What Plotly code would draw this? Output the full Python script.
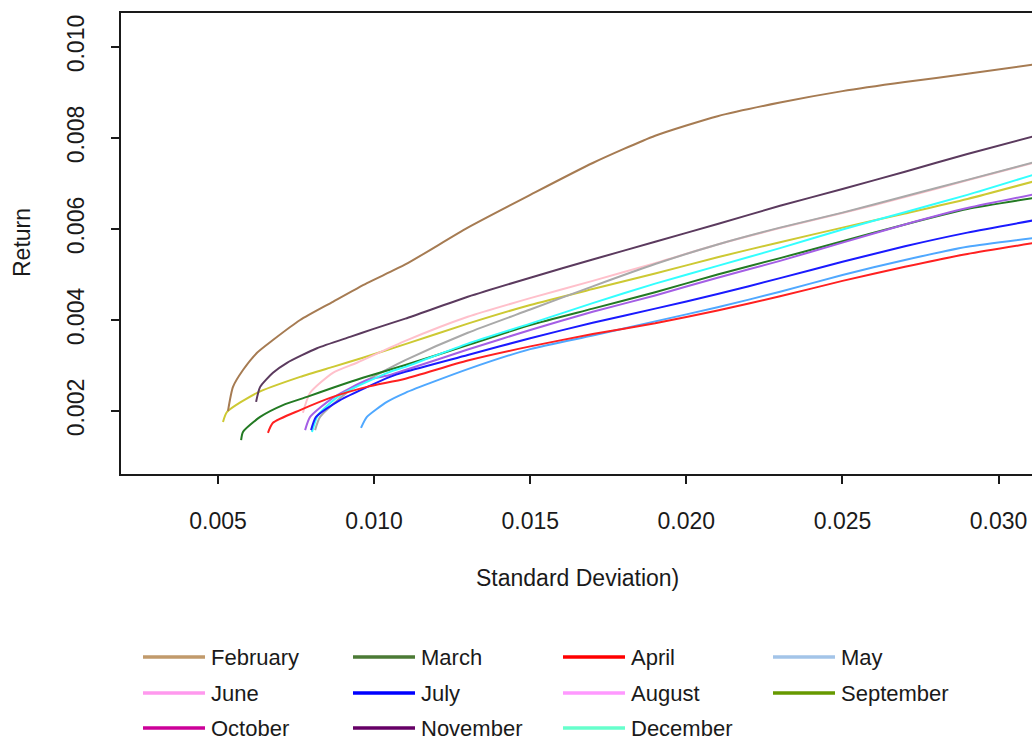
import plotly.graph_objects as go

# ---------------- data ----------------
months = ["February", "March", "April", "May", "June", "July",
          "August", "September", "October", "November", "December"]

feb_sd = [0.00532, 0.00548, 0.00580, 0.00625, 0.00676, 0.00763, 0.00868, 0.00977, 0.011, 0.013, 0.015, 0.017, 0.019, 0.021, 0.023, 0.025, 0.027, 0.029, 0.0312]
feb_ret = [0.00200, 0.00253, 0.00290, 0.00328, 0.00356, 0.00400, 0.00440, 0.00481, 0.00522, 0.00603, 0.00675, 0.00745, 0.00805, 0.00848, 0.00878, 0.00903, 0.00923, 0.00941, 0.00962]

mar_sd = [0.00574, 0.00580, 0.00635, 0.00708, 0.00785, 0.00868, 0.00964, 0.011, 0.013, 0.015, 0.017, 0.019, 0.021, 0.023, 0.025, 0.027, 0.029, 0.0312]
mar_ret = [0.00136, 0.00154, 0.00187, 0.00213, 0.00231, 0.00251, 0.00273, 0.00301, 0.00345, 0.00389, 0.00425, 0.00461, 0.00500, 0.00536, 0.00573, 0.00610, 0.00644, 0.00669]

apr_sd = [0.00660, 0.00676, 0.00763, 0.00868, 0.00977, 0.011, 0.013, 0.015, 0.017, 0.019, 0.021, 0.023, 0.025, 0.027, 0.029, 0.0312]
apr_ret = [0.00152, 0.00174, 0.00202, 0.00231, 0.00253, 0.00271, 0.00311, 0.00342, 0.00369, 0.00393, 0.00421, 0.00452, 0.00486, 0.00517, 0.00545, 0.00570]

may_sd = [0.00958, 0.00977, 0.01041, 0.011, 0.013, 0.015, 0.017, 0.019, 0.021, 0.023, 0.025, 0.027, 0.029, 0.0312]
may_ret = [0.00163, 0.00187, 0.00220, 0.00240, 0.00292, 0.00336, 0.00366, 0.00397, 0.00428, 0.00462, 0.00499, 0.00532, 0.00561, 0.00581]

jun_sd = [0.00772, 0.00795, 0.00868, 0.00945, 0.011, 0.013, 0.015, 0.017, 0.019, 0.021, 0.023, 0.025, 0.027, 0.029, 0.0312]
jun_ret = [0.00196, 0.00240, 0.00284, 0.00306, 0.00354, 0.00407, 0.00448, 0.00486, 0.00525, 0.00566, 0.00602, 0.00635, 0.00670, 0.00707, 0.00747]

jul_sd = [0.00798, 0.00814, 0.00891, 0.01051, 0.011, 0.013, 0.015, 0.017, 0.019, 0.021, 0.023, 0.025, 0.027, 0.029, 0.0312]
jul_ret = [0.00158, 0.00187, 0.00224, 0.00275, 0.00286, 0.00323, 0.00360, 0.00394, 0.00425, 0.00457, 0.00492, 0.00528, 0.00562, 0.00592, 0.00620]

aug_sd = [0.00779, 0.00795, 0.00868, 0.00977, 0.01051, 0.011, 0.013, 0.015, 0.017, 0.019, 0.021, 0.023, 0.025, 0.027, 0.029, 0.0312]
aug_ret = [0.00158, 0.00187, 0.00229, 0.00268, 0.00279, 0.00290, 0.00335, 0.00378, 0.00418, 0.00454, 0.00493, 0.00530, 0.00570, 0.00610, 0.00646, 0.00677]

sep_sd = [0.00516, 0.00529, 0.00625, 0.00763, 0.00868, 0.00964, 0.011, 0.013, 0.015, 0.017, 0.019, 0.021, 0.023, 0.025, 0.027, 0.029, 0.0312]
sep_ret = [0.00176, 0.00198, 0.00240, 0.00275, 0.00297, 0.00317, 0.00347, 0.00392, 0.00433, 0.00468, 0.00502, 0.00538, 0.00571, 0.00603, 0.00634, 0.00666, 0.00706]

oct_sd = [0.00811, 0.00827, 0.00923, 0.01051, 0.011, 0.013, 0.015, 0.017, 0.019, 0.021, 0.023, 0.025, 0.027, 0.029, 0.0312]
oct_ret = [0.00158, 0.00187, 0.00246, 0.00295, 0.00312, 0.00372, 0.00423, 0.00474, 0.00523, 0.00566, 0.00603, 0.00636, 0.00672, 0.00708, 0.00748]

nov_sd = [0.00622, 0.00635, 0.00676, 0.00721, 0.00817, 0.00923, 0.00996, 0.011, 0.013, 0.015, 0.017, 0.019, 0.021, 0.023, 0.025, 0.027, 0.029, 0.0312]
nov_ret = [0.00220, 0.00253, 0.00284, 0.00306, 0.00338, 0.00363, 0.00380, 0.00403, 0.00451, 0.00493, 0.00533, 0.00572, 0.00611, 0.00651, 0.00688, 0.00726, 0.00765, 0.00805]

dec_sd = [0.00801, 0.00820, 0.00891, 0.01051, 0.011, 0.013, 0.015, 0.017, 0.019, 0.021, 0.023, 0.025, 0.027, 0.029, 0.0312]
dec_ret = [0.00154, 0.00191, 0.00235, 0.00286, 0.00297, 0.00348, 0.00392, 0.00437, 0.00480, 0.00519, 0.00558, 0.00599, 0.00637, 0.00675, 0.00721]

x_ticks = [0.005, 0.010, 0.015, 0.020, 0.025, 0.030]
x_tick_labels = ["0.005", "0.010", "0.015", "0.020", "0.025", "0.030"]
y_ticks = [0.002, 0.004, 0.006, 0.008, 0.010]
y_tick_labels = ["0.002", "0.004", "0.006", "0.008", "0.010"]

x_title = "Standard Deviation)"
y_title = "Return"

# ---------------- styles ----------------
series = [
    (feb_sd, feb_ret), (mar_sd, mar_ret), (apr_sd, apr_ret), (may_sd, may_ret),
    (jun_sd, jun_ret), (jul_sd, jul_ret), (aug_sd, aug_ret), (sep_sd, sep_ret),
    (oct_sd, oct_ret), (nov_sd, nov_ret), (dec_sd, dec_ret),
]
line_colors = ["#A67B52", "#237A23", "#FF2020", "#4FA8FF", "#FFC0CB", "#1A1AFF",
               "#A45EE5", "#CDC933", "#A9A9A9", "#5B3A5E", "#33FFFF"]
legend_colors = ["#C19A6B", "#4B7A35", "#FF0000", "#A3C4E8", "#FF99EE", "#0000FF",
                 "#FF99FF", "#669900", "#CC0099", "#660066", "#66FFCC"]

W, H = 1032, 740
L, T, R, B = 121, 13, 1032, 474
pw, ph = R - L, B - T

def px(xp):
    return (xp - L) / pw

def py(yp):
    return (B - yp) / ph

fig = go.Figure()
# draw in an order so that overlaps resemble the reference
order = [7, 4, 8, 0, 9, 1, 6, 10, 5, 3, 2]
for i in order:
    sx, sy = series[i]
    fig.add_trace(go.Scatter(x=sx, y=sy, mode="lines", name=months[i],
                             line=dict(color=line_colors[i], width=2, shape="spline", smoothing=0.6),
                             showlegend=False, hoverinfo="skip"))

font_main = "Liberation Sans, Arial, sans-serif"

shapes = []
annotations = []
# custom legend grid (4 columns)
col_x = [143, 353, 563, 773]
row_y = [657, 693, 728]
for k, (name, col) in enumerate(zip(months, legend_colors)):
    r, c = divmod(k, 4)
    x0 = col_x[c]
    y0 = row_y[r]
    shapes.append(dict(type="line", xref="paper", yref="paper",
                       x0=px(x0), x1=px(x0 + 62), y0=py(y0), y1=py(y0),
                       line=dict(color=col, width=3.5)))
    annotations.append(dict(xref="paper", yref="paper", x=px(x0 + 66), y=py(y0),
                            text=name, showarrow=False, xanchor="left", yanchor="middle",
                            font=dict(family=font_main, size=22, color="#1a1a1a")))

annotations.append(dict(xref="paper", yref="paper", x=px(577), y=py(578), text=x_title,
                        showarrow=False, xanchor="center", yanchor="middle",
                        font=dict(family=font_main, size=23, color="#1a1a1a")))
annotations.append(dict(xref="paper", yref="paper", x=px(22), y=py(243), text=y_title,
                        showarrow=False, xanchor="center", yanchor="middle", textangle=-90,
                        font=dict(family=font_main, size=23, color="#1a1a1a")))

x_range = [0.005 - (218 - L) / 31224, 0.005 + (R - 218) / 31224]
y_range = [0.002 - (B - 411) / 45500, 0.002 + (411 - T) / 45500]

fig.update_layout(
    width=W, height=H,
    margin=dict(l=L, r=W - R, t=T, b=H - B, pad=0),
    paper_bgcolor="white", plot_bgcolor="white",
    showlegend=False,
    shapes=shapes, annotations=annotations,
    xaxis=dict(range=x_range, tickvals=x_ticks, ticktext=x_tick_labels,
               showgrid=False, zeroline=False, showline=True, mirror=True,
               linecolor="#1a1a1a", linewidth=1.5,
               ticks="outside", ticklen=8, tickwidth=1.5, tickcolor="#1a1a1a",
               ticklabelstandoff=18,
               tickfont=dict(family=font_main, size=23, color="#1a1a1a")),
    yaxis=dict(range=y_range, tickvals=y_ticks, ticktext=y_tick_labels,
               showgrid=False, zeroline=False, showline=True, mirror=False,
               linecolor="#1a1a1a", linewidth=1.5,
               ticks="outside", ticklen=8, tickwidth=1.5, tickcolor="#1a1a1a",
               tickangle=-90, ticklabelstandoff=18,
               tickfont=dict(family=font_main, size=23, color="#1a1a1a")),
)

fig.write_html("out.html")
